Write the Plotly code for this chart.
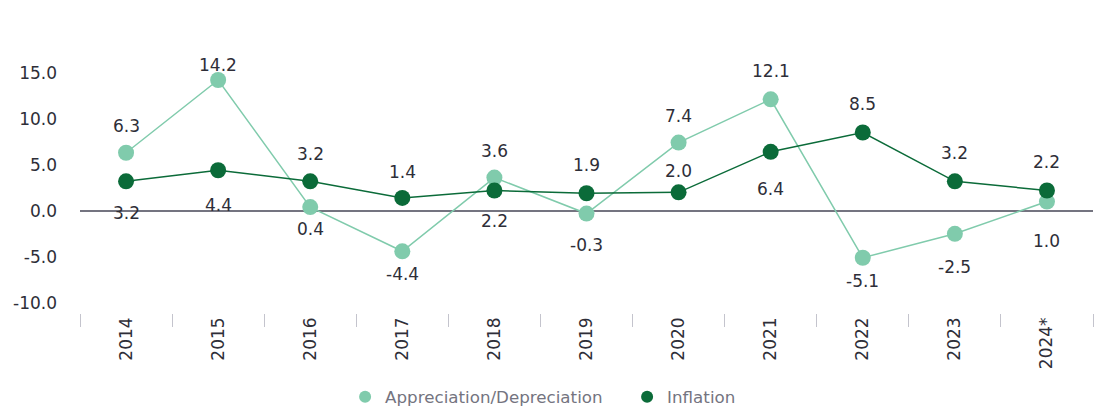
import plotly.graph_objects as go

years = ["2014", "2015", "2016", "2017", "2018", "2019", "2020", "2021", "2022", "2023", "2024*"]
appreciation = [6.3, 14.2, 0.4, -4.4, 3.6, -0.3, 7.4, 12.1, -5.1, -2.5, 1.0]
inflation = [3.2, 4.4, 3.2, 1.4, 2.2, 1.9, 2.0, 6.4, 8.5, 3.2, 2.2]
y_ticks = [-10, -5, 0, 5, 10, 15]

# label offsets (px, positive = above the point)
app_label_shift = [27, 15, -22, -23, 27, -31, 27, 28, -23, -33, -39]
inf_label_shift = [-32, -35, 27, 26, -30, 28, 21, -37, 28, 28, 29]

LIGHT = "#80cbac"
DARK = "#0b6b39"
TEXT = "#2e2e38"
FONT = "DejaVu Sans"

fig = go.Figure()
for name, vals, col in (("Appreciation/Depreciation", appreciation, LIGHT), ("Inflation", inflation, DARK)):
    fig.add_trace(go.Scatter(
        x=years, y=vals, name=name, showlegend=False,
        mode="lines+markers", line=dict(color=col, width=1.5),
        marker=dict(color=col, size=16),
    ))
for name, col in (("Appreciation/Depreciation", LIGHT), ("Inflation", DARK)):
    fig.add_trace(go.Scatter(
        x=[None], y=[None], name=name, mode="markers",
        marker=dict(color=col, size=16), showlegend=True,
    ))

annotations = []
for vals, shifts in ((appreciation, app_label_shift), (inflation, inf_label_shift)):
    for i, (v, s) in enumerate(zip(vals, shifts)):
        annotations.append(dict(
            x=i, y=v, xref="x", yref="y", text=f"{v:.1f}", showarrow=False, yshift=s,
            font=dict(family=FONT, size=17, color=TEXT),
        ))

fig.update_layout(
    width=1098, height=408,
    margin=dict(l=80, r=5, t=45, b=95, autoexpand=False),
    paper_bgcolor="white", plot_bgcolor="white",
    font=dict(family=FONT, size=17, color=TEXT),
    annotations=annotations,
    showlegend=True,
    legend=dict(
        orientation="h", x=0.2617, xanchor="left", y=-0.313, yanchor="middle",
        font=dict(family=FONT, size=16.7, color="#747480"),
        itemsizing="constant", entrywidth=237, entrywidthmode="pixels",
    ),
    xaxis=dict(
        type="category", range=[-0.5, 10.5], automargin=False,
        showgrid=False, zeroline=False, showline=False,
        ticks="outside", tickson="boundaries", ticklen=13, tickcolor="#c4c4cd", tickwidth=1,
        tickangle=-90, ticklabelstandoff=0,
        tickfont=dict(family=FONT, size=17, color=TEXT),
    ),
    yaxis=dict(
        range=[-11.1, 18], tickvals=y_ticks, ticktext=[f"{t:.1f}" for t in y_ticks],
        automargin=False,
        showgrid=False, zeroline=True, zerolinecolor="#747480", zerolinewidth=2,
        showline=False, ticks="", ticklabelstandoff=22,
        tickfont=dict(family=FONT, size=17, color=TEXT),
    ),
)

fig.write_html(
    "out.html",
    config={"displayModeBar": False},
    post_script="document.body.style.margin='0';document.body.style.overflow='hidden';",
)
